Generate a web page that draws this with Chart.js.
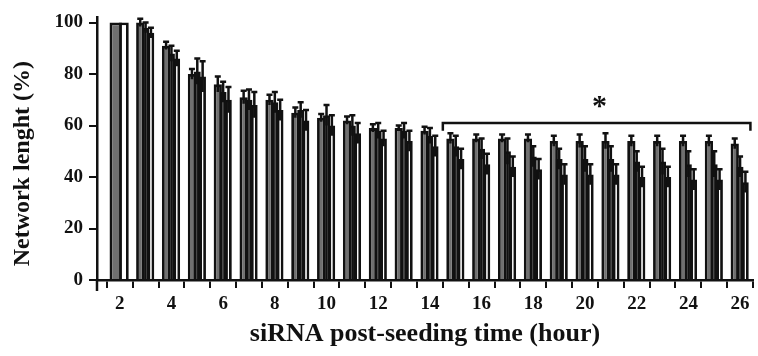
<!DOCTYPE html>
<html>
<head>
<meta charset="utf-8">
<script src="https://cdn.jsdelivr.net/npm/chart.js@4.4.1/dist/chart.umd.min.js"></script>
<style>
  html, body { margin: 0; padding: 0; background: #fff; }
  #wrap { width: 758px; height: 356px; position: relative; }
</style>
</head>
<body>
<div id="wrap"><canvas id="net_chart"></canvas></div>
<script>
// hours after seeding
var hours = ['2','3','4','5','6','7','8','9','10','11','12','13','14','15','16','17','18','19','20','21','22','23','24','25','26'];
var y_ticks = [0, 20, 40, 60, 80, 100];

// three series per hour: gray, black, white bars
var gray_vals  = [100,100,91,80,76,71,70,65,63,62,59,59,58,55,55,55,55,54,54,54,54,54,54,54,53];
var gray_err   = [0,1.5,1.5,2,3,2.5,2,2,1.5,1.5,1.5,1,1.5,2,1.5,1.5,1.5,2,2.5,3,2,2,2,2,2];
var black_vals = [null,98,88,81,73,70,69,66,64,60,58,58,56,52,51,50,48,47,47,47,46,46,45,45,44];
var black_err  = [0,2,3,5,4,4,4,3,4,4,3,3,3,4,4,5,4,4,5,5,4,5,5,5,4];
var white_vals = [100,96,86,79,70,68,66,62,60,57,55,54,52,47,45,44,43,41,41,41,40,40,39,39,38];
var white_err  = [0,2,3,6,5,5,4,4,4,4,3,4,4,4,4,4,4,4,4,4,4,4,4,4,4];

// significance bracket over hours 15..26
var sig_from = 12.5, sig_to = 24.4, sig_level = 61, sig_drop = 3, sig_label = '*';

var serif = '"Liberation Serif", "Times New Roman", serif';

const errorBars = {
	id: 'errorBars',
	afterDatasetsDraw(chart) {
		const ctx = chart.ctx;
		const y = chart.scales.y;
		ctx.save();
		ctx.strokeStyle = '#111';
		ctx.lineWidth = 2.5;
		chart.data.datasets.forEach(function(ds, di) {
			const meta = chart.getDatasetMeta(di);
			meta.data.forEach(function(bar, i) {
				const v = ds.data[i];
				const e = ds.errs[i];
				if (v == null || !e) return;
				const top = y.getPixelForValue(v + e);
				const bot = y.getPixelForValue(v - e);
				ctx.beginPath();
				ctx.moveTo(bar.x, top);
				ctx.lineTo(bar.x, bot);
				ctx.moveTo(bar.x - 3, top);
				ctx.lineTo(bar.x + 3, top);
				ctx.stroke();
			});
		});
		ctx.restore();
	}
};

const bracket = {
	id: 'bracket',
	afterDraw(chart) {
		const ctx = chart.ctx;
		const x = chart.scales.x, y = chart.scales.y;
		const x1 = x.getPixelForValue(sig_from), x2 = x.getPixelForValue(sig_to);
		const yl = y.getPixelForValue(sig_level), yd = y.getPixelForValue(sig_level - sig_drop);
		ctx.save();
		ctx.strokeStyle = '#111';
		ctx.lineWidth = 2.5;
		ctx.beginPath();
		ctx.moveTo(x1, yd);
		ctx.lineTo(x1, yl);
		ctx.lineTo(x2, yl);
		ctx.lineTo(x2, yd);
		ctx.stroke();
		ctx.fillStyle = '#111';
		ctx.font = 'bold 30px ' + serif;
		ctx.textAlign = 'center';
		ctx.textBaseline = 'middle';
		ctx.fillText(sig_label, (x1 + x2) / 2 + 3, y.getPixelForValue(sig_level + 6));
		// y axis runs a little below the x axis
		ctx.beginPath();
		ctx.moveTo(chart.chartArea.left, chart.chartArea.bottom);
		ctx.lineTo(chart.chartArea.left, chart.chartArea.bottom + 11);
		ctx.stroke();
		ctx.restore();
	}
};

const ctx = document.getElementById('net_chart').getContext('2d');
const net_chart = new Chart(ctx, {
	type: 'bar',
	data: {
		labels: hours,
		datasets: [{
			data: gray_vals,
			errs: gray_err,
			backgroundColor: '#707070',
			borderColor: '#111',
			borderWidth: 2.8,
			barPercentage: 1.55
		}, {
			data: black_vals,
			errs: black_err,
			backgroundColor: '#111',
			borderColor: '#111',
			borderWidth: 2.8,
			barPercentage: 1.3
		}, {
			data: white_vals,
			errs: white_err,
			backgroundColor: '#fff',
			borderColor: '#111',
			borderWidth: 2.8,
			barPercentage: 1.25
		}]
	},
	options: {
		responsive: true,
		maintainAspectRatio: false,
		animation: false,
		skipNull: true,
		categoryPercentage: 0.62,
		layout: { padding: { top: 12, right: 5, left: 0, bottom: 0 } },
		scales: {
			x: {
				offset: true,
				afterBuildTicks: function(s) {
					// small empty strip before the first hour
					s._startValue -= 0.38;
					s._valueRange += 0.38;
				},
				afterFit: function(s) { s.height = 76; },
				grid: { offset: true, drawOnChartArea: false, color: '#111', lineWidth: 2, tickLength: 8 },
				border: { display: true, color: '#111', width: 2.5 },
				ticks: {
					autoSkip: false,
					maxRotation: 0,
					padding: 5,
					color: '#111',
					font: { family: serif, size: 19, weight: 'bold' },
					callback: function(value, index) {
						var h = parseInt(this.getLabelForValue(value));
						return h % 2 == 0 ? String(h) : '';
					}
				},
				title: {
					display: true,
					text: 'siRNA post-seeding time (hour)',
					color: '#111',
					font: { family: serif, size: 26, weight: 'bold' },
					padding: { top: 0, bottom: 6 }
				}
			},
			y: {
				min: 0,
				max: 102,
				afterBuildTicks: function(s) {
					s.ticks = y_ticks.map(function(v) { return { value: v }; });
				},
				afterFit: function(s) { s.width = 97; },
				grid: { drawOnChartArea: false, color: '#111', lineWidth: 2, tickLength: 8 },
				border: { display: true, color: '#111', width: 2.5 },
				ticks: {
					padding: 6,
					color: '#111',
					font: { family: serif, size: 19, weight: 'bold' }
				},
				title: {
					display: true,
					// trailing spaces push the visible text a bit lower, as in the figure
					text: 'Network lenght (%)\u00a0\u00a0\u00a0\u00a0\u00a0',
					color: '#111',
					font: { family: serif, size: 24, weight: 'bold' },
					padding: { top: 8, bottom: 0 }
				}
			}
		},
		plugins: {
			legend: { display: false },
			tooltip: { enabled: false }
		}
	},
	plugins: [errorBars, bracket]
});
</script>
</body>
</html>
